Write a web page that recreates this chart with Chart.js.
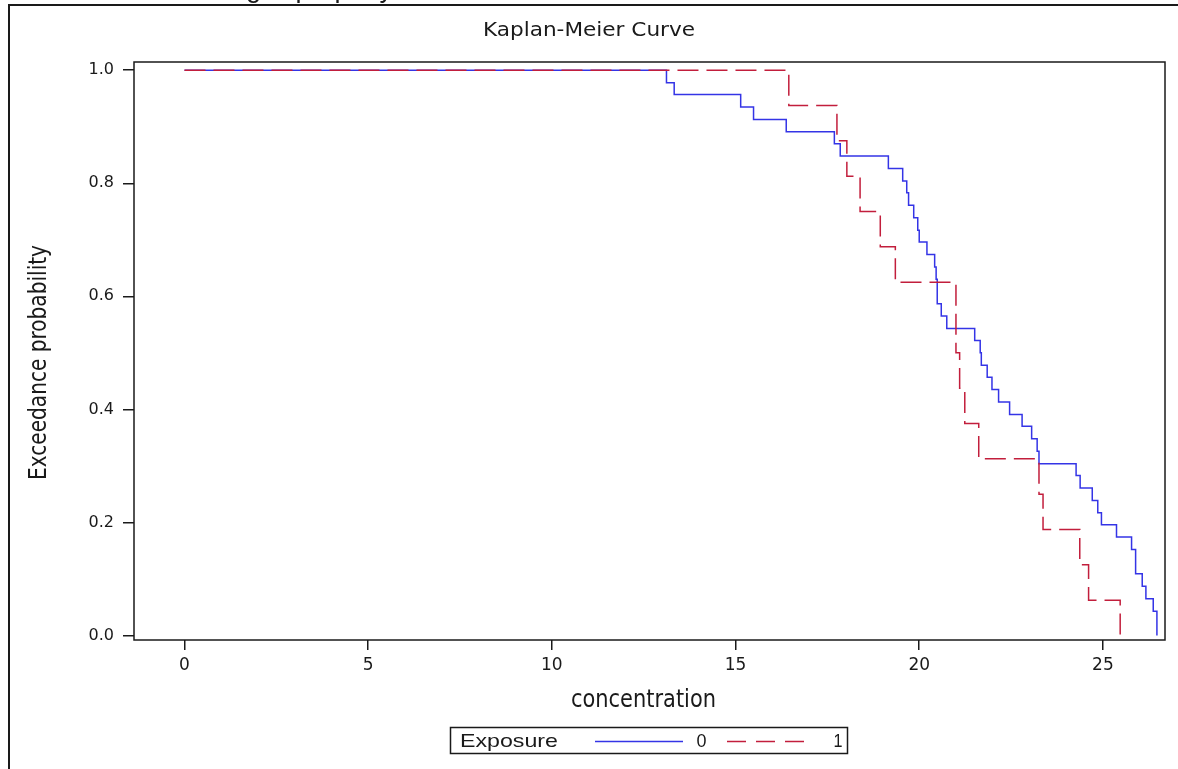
<!DOCTYPE html>
<html>
<head>
<meta charset="utf-8">
<script src="https://cdn.jsdelivr.net/npm/chart.js@4/dist/chart.umd.min.js"></script>
<style>
  html, body { margin: 0; padding: 0; background: #fff; }
</style>
</head>
<body>
<canvas id="km" width="1178" height="769"></canvas>
<script>
// Exposure = 0 (step times and survival after each step)
const timesExp0 = [0, 13.12, 13.33, 15.14, 15.49, 16.38, 17.69, 17.85, 19.16, 19.55, 19.66, 19.71, 19.85, 19.96, 20.00,
  20.21, 20.42, 20.46, 20.49, 20.60, 20.75, 21.51, 21.66, 21.69, 21.85, 21.98, 22.16, 22.46, 22.80, 23.06,
  23.21, 23.26, 24.27, 24.38, 24.71, 24.86, 24.96, 25.37, 25.78, 25.89, 26.07, 26.17, 26.37, 26.47]
const survExp0 = [1.0, 0.978, 0.957, 0.935, 0.913, 0.891, 0.870, 0.848, 0.826, 0.804, 0.783, 0.761, 0.739, 0.717, 0.696,
  0.674, 0.652, 0.630, 0.587, 0.565, 0.543, 0.522, 0.500, 0.478, 0.457, 0.435, 0.413, 0.391, 0.370, 0.348,
  0.326, 0.304, 0.283, 0.261, 0.239, 0.217, 0.196, 0.174, 0.152, 0.109, 0.087, 0.065, 0.043, 0.0]

// Exposure = 1
const timesExp1 = [0, 16.45, 17.76, 18.03, 18.39, 18.94, 19.35, 21.00, 21.10, 21.24, 21.62, 23.26, 23.37, 24.37, 24.61, 25.47]
const survExp1 = [1.0, 0.9375, 0.875, 0.8125, 0.75, 0.6875, 0.625, 0.5, 0.4375, 0.375, 0.3125, 0.25, 0.1875, 0.125, 0.0625, 0.0]

const xTicks = [0, 5, 10, 15, 20, 25]
const yTicks = [0, 0.2, 0.4, 0.6, 0.8, 1.0]
const groupLabels = ['0', '1']

const BLUE = '#3434e6'
const RED = '#c21e3c'
const INK = '#1a1a1a'

// draw text squeezed/stretched to a given width (SAS style narrow font)
function fitText(ctx, text, cx, cy, width, font, rot) {
  ctx.save()
  ctx.font = font
  ctx.textAlign = 'center'
  ctx.textBaseline = 'alphabetic'
  const w = ctx.measureText(text).width
  ctx.translate(cx, cy)
  if (rot) ctx.rotate(rot)
  ctx.scale(width / w, 1)
  ctx.fillStyle = INK
  ctx.fillText(text, 0, 0)
  ctx.restore()
}

const decorations = {
  id: 'decorations',
  afterDraw(chart) {
    const ctx = chart.ctx
    const a = chart.chartArea

    // plot frame
    ctx.save()
    ctx.strokeStyle = INK
    ctx.lineWidth = 1.5
    ctx.strokeRect(a.left, a.top, a.right - a.left, a.bottom - a.top)

    // outer page border
    ctx.lineWidth = 2
    ctx.strokeRect(9, 5, 2000, 2000)
    ctx.restore()

    // cut off text line above the figure, only descenders show
    ctx.save()
    ctx.font = '27px "Liberation Sans"'
    ctx.textAlign = 'left'
    ctx.textBaseline = 'alphabetic'
    ctx.fillStyle = INK
    ctx.fillText('g is properly', 246, -3)
    ctx.restore()

    const narrow = '"DejaVu Sans Condensed", "Liberation Sans", sans-serif'
    fitText(ctx, 'Kaplan-Meier Curve', 589, 36, 212, '20px ' + narrow)
    fitText(ctx, 'concentration', 643.5, 707, 145, '25px ' + narrow)
    fitText(ctx, 'Exceedance probability', 46, 362.5, 235, '25px ' + narrow, -Math.PI / 2)

    // legend
    ctx.save()
    ctx.strokeStyle = INK
    ctx.lineWidth = 1.5
    ctx.strokeRect(450.5, 727.5, 397, 26)
    ctx.strokeStyle = BLUE
    ctx.beginPath()
    ctx.moveTo(595, 741.5)
    ctx.lineTo(683, 741.5)
    ctx.stroke()
    ctx.strokeStyle = RED
    ctx.setLineDash([19, 10])
    ctx.beginPath()
    ctx.moveTo(727, 741.5)
    ctx.lineTo(808, 741.5)
    ctx.stroke()
    ctx.restore()
    fitText(ctx, 'Exposure', 509, 747, 98, '19px "Liberation Sans"')
    fitText(ctx, groupLabels[0], 701.5, 747, 10, '19px "Liberation Sans"')
    fitText(ctx, groupLabels[1], 838, 747, 9, '19px "Liberation Sans"')
  }
}

const toPoints = (xs, ys) => xs.map((x, i) => ({ x: x, y: ys[i] }))

new Chart(document.getElementById('km'), {
  type: 'line',
  data: {
    datasets: [
      {
        label: groupLabels[0],
        data: toPoints(timesExp0, survExp0),
        borderColor: BLUE,
        borderWidth: 1.5,
        stepped: 'before',
        pointRadius: 0,
        order: 1
      },
      {
        label: groupLabels[1],
        data: toPoints(timesExp1, survExp1),
        borderColor: RED,
        borderWidth: 1.5,
        borderDash: [21, 8],
        stepped: 'before',
        pointRadius: 0,
        order: 0
      }
    ]
  },
  options: {
    responsive: false,
    animation: false,
    devicePixelRatio: 1,
    layout: {
      padding: { top: 62, left: 0, right: 13, bottom: 0 }
    },
    plugins: {
      legend: { display: false },
      tooltip: { enabled: false }
    },
    scales: {
      x: {
        type: 'linear',
        min: -1.374,
        max: 26.69,
        afterBuildTicks: (scale) => { scale.ticks = xTicks.map(v => ({ value: v })) },
        afterFit: (scale) => { scale.height = 129 },
        ticks: {
          color: INK,
          padding: 5,
          maxRotation: 0,
          font: { family: 'DejaVu Sans', size: 17 },
          callback: (v) => String(v)
        },
        grid: { display: true, drawOnChartArea: false, tickLength: 10, color: INK, lineWidth: 1.5 },
        border: { display: false }
      },
      y: {
        type: 'linear',
        min: -0.008,
        max: 1.0145,
        afterBuildTicks: (scale) => { scale.ticks = yTicks.map(v => ({ value: v })) },
        afterFit: (scale) => { scale.width = 134 },
        ticks: {
          color: INK,
          padding: 9,
          font: { family: 'DejaVu Sans', size: 16 },
          callback: (v) => v.toFixed(1)
        },
        grid: { display: true, drawOnChartArea: false, tickLength: 11, color: INK, lineWidth: 1.5 },
        border: { display: false }
      }
    }
  },
  plugins: [decorations]
})
</script>
</body>
</html>
